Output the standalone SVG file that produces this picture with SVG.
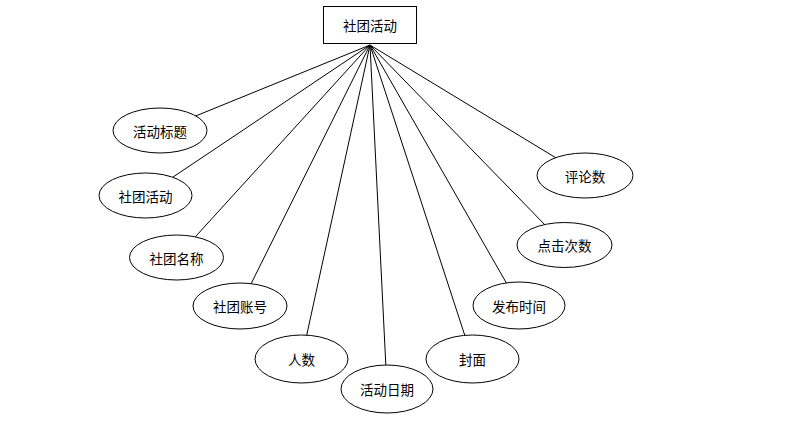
<svg xmlns="http://www.w3.org/2000/svg" width="794" height="426" viewBox="0 0 794 426">
<style>
.n ellipse, .n rect { fill: #fff; stroke: #000; stroke-width: 1; }
.c line { stroke: #000; stroke-width: 1; }
text { font-family: "Noto Sans CJK SC", "Liberation Sans", sans-serif; font-size: 13.5px; fill: #000; text-anchor: middle; dominant-baseline: central; }
</style>
<rect width="794" height="426" fill="#fff"/>
<g id="connectors" class="c">
<line x1="370" y1="45" x2="160" y2="130.5"/>
<line x1="370" y1="45" x2="145.5" y2="195.5"/>
<line x1="370" y1="45" x2="176.5" y2="257.5"/>
<line x1="370" y1="45" x2="240" y2="306"/>
<line x1="370" y1="45" x2="301.5" y2="359"/>
<line x1="370" y1="45" x2="387" y2="389"/>
<line x1="370" y1="45" x2="472.5" y2="359"/>
<line x1="370" y1="45" x2="519" y2="305"/>
<line x1="370" y1="45" x2="564.5" y2="245"/>
<line x1="370" y1="45" x2="585" y2="175.5"/>
</g>
<g id="main" class="n"><rect x="323.5" y="6.5" width="93" height="37"/><text x="370" y="25">社团活动</text></g>
<g id="a1" class="n"><ellipse cx="160" cy="130.5" rx="47" ry="22.5"/><text x="160" y="130.5">活动标题</text></g>
<g id="a2" class="n"><ellipse cx="145.5" cy="195.5" rx="46.5" ry="22.5"/><text x="145.5" y="195.5">社团活动</text></g>
<g id="a3" class="n"><ellipse cx="176.5" cy="257.5" rx="47" ry="22.5"/><text x="176.5" y="257.5">社团名称</text></g>
<g id="a4" class="n"><ellipse cx="240" cy="306" rx="47" ry="23"/><text x="240" y="306">社团账号</text></g>
<g id="a5" class="n"><ellipse cx="301.5" cy="359" rx="46.5" ry="24"/><text x="301.5" y="359">人数</text></g>
<g id="a6" class="n"><ellipse cx="387" cy="389" rx="46" ry="24"/><text x="387" y="389">活动日期</text></g>
<g id="a7" class="n"><ellipse cx="472.5" cy="359" rx="46.5" ry="24"/><text x="472.5" y="359">封面</text></g>
<g id="a8" class="n"><ellipse cx="519" cy="305.5" rx="46" ry="23.5"/><text x="519" y="305.5">发布时间</text></g>
<g id="a9" class="n"><ellipse cx="564.5" cy="245" rx="47.5" ry="22.5"/><text x="564.5" y="245">点击次数</text></g>
<g id="a10" class="n"><ellipse cx="585" cy="175.5" rx="48" ry="22.5"/><text x="585" y="175.5">评论数</text></g>
</svg>
